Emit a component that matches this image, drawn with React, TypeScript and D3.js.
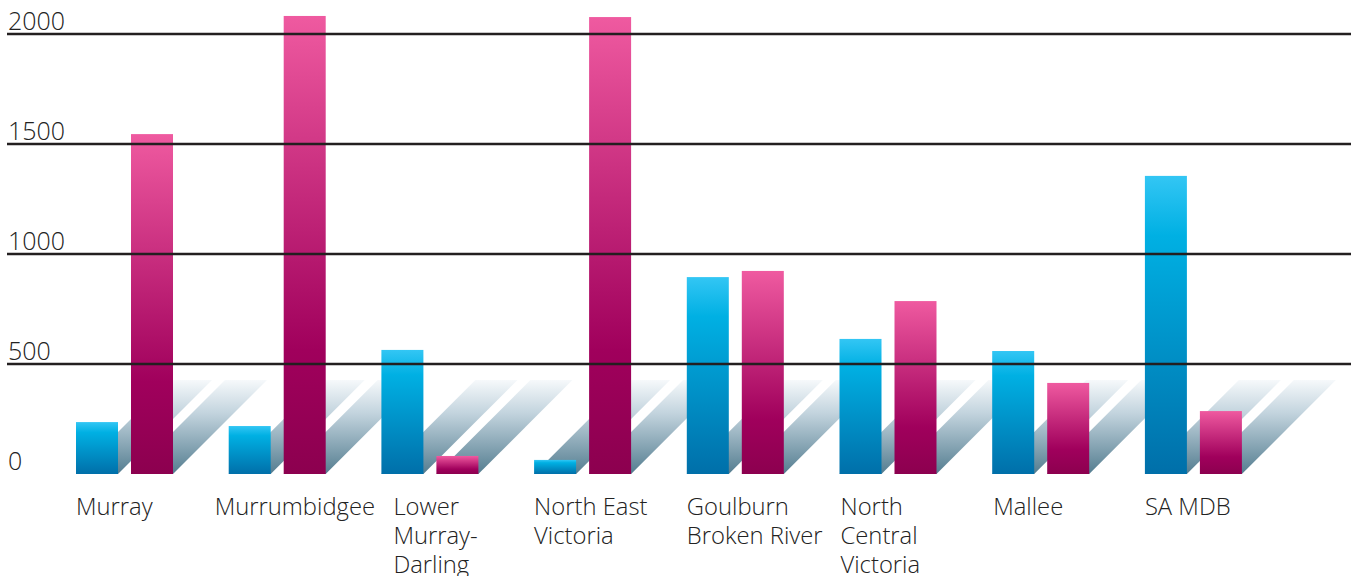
import React from "react";
import * as d3 from "d3";

const categories = [
  "Murray",
  "Murrumbidgee",
  "Lower Murray-Darling",
  "North East Victoria",
  "Goulburn Broken River",
  "North Central Victoria",
  "Mallee",
  "SA MDB",
];
const categoryLines = [
  ["Murray"],
  ["Murrumbidgee"],
  ["Lower", "Murray-", "Darling"],
  ["North East", "Victoria"],
  ["Goulburn", "Broken River"],
  ["North", "Central", "Victoria"],
  ["Mallee"],
  ["SA MDB"],
];
const seriesBlue = [236, 218, 564, 64, 895, 614, 559, 1355];
const seriesPink = [1545, 2082, 82, 2077, 923, 786, 414, 286];
const yTicks = [0, 500, 1000, 1500, 2000];
const labelDx = [0, -14, 12, 0, 0, 1, 1, 0];

const W = 1357;
const H = 576;

export default function App() {
  const x0 = d3
    .scaleBand<string>()
    .domain(categories)
    .range([76, 76 + 152.7 * categories.length])
    .paddingInner(0)
    .paddingOuter(0);
  const x1 = d3
    .scaleBand<string>()
    .domain(["blue", "pink"])
    .range([0, 97])
    .paddingInner(13 / 55)
    .paddingOuter(0);
  const y = d3.scaleLinear().domain([0, 2000]).range([474, 34]);
  const base = y(0);
  const sh = 94;
  const bw = x1.bandwidth();

  const bars: { key: string; series: string; x: number; v: number }[] = [];
  categories.forEach((c, i) => {
    bars.push({ key: c + "b", series: "blue", x: (x0(c) as number) + (x1("blue") as number), v: seriesBlue[i] });
    bars.push({ key: c + "p", series: "pink", x: (x0(c) as number) + (x1("pink") as number), v: seriesPink[i] });
  });

  const shadowPath = (bx: number) => {
    const p = d3.path();
    p.moveTo(bx, base);
    p.lineTo(bx + bw, base);
    p.lineTo(bx + bw + sh, base - sh);
    p.lineTo(bx + sh, base - sh);
    p.closePath();
    return p.toString();
  };

  const font = "'Open Sans', 'Noto Sans', sans-serif";

  return (
    <svg
      width={W}
      height={H}
      style={{ position: "absolute", left: 0, top: 0, background: "#fff" }}
    >
      <defs>
        <linearGradient id="gBlue" x1="0" y1="0" x2="0" y2="1">
          <stop offset="0" stopColor="#33c6f4" />
          <stop offset="0.2" stopColor="#00b0e3" />
          <stop offset="1" stopColor="#006fa9" />
        </linearGradient>
        <linearGradient id="gPink" x1="0" y1="0" x2="0" y2="1">
          <stop offset="0" stopColor="#ef5aa0" />
          <stop offset="0.73" stopColor="#a0005c" />
          <stop offset="1" stopColor="#8c004f" />
        </linearGradient>
        <linearGradient
          id="gShadow"
          gradientUnits="userSpaceOnUse"
          x1="0"
          y1={base - sh}
          x2="0"
          y2={base}
        >
          <stop offset="0" stopColor="#f6f9fb" />
          <stop offset="0.35" stopColor="#c3d4de" />
          <stop offset="1" stopColor="#547d90" />
        </linearGradient>
      </defs>

      {bars.map((b) => (
        <path key={"s" + b.key} d={shadowPath(b.x)} fill="url(#gShadow)" />
      ))}

      {bars.map((b) => (
        <rect
          key={b.key}
          x={b.x}
          y={y(b.v)}
          width={bw}
          height={base - y(b.v)}
          fill={b.series === "blue" ? "url(#gBlue)" : "url(#gPink)"}
        />
      ))}

      {yTicks
        .filter((t) => t > 0)
        .map((t) => (
          <line
            key={"g" + t}
            x1={7}
            x2={1351}
            y1={y(t)}
            y2={y(t)}
            stroke="#231f20"
            strokeWidth={2.4}
          />
        ))}

      {yTicks.map((t) => (
        <text
          key={"t" + t}
          x={8}
          y={y(t) - 4.5}
          fontFamily={font}
          fontWeight={300}
          fontSize={25}
          fill="#222"
        >
          {t}
        </text>
      ))}

      {categories.map((c, i) => (
        <text
          key={"c" + c}
          x={(x0(c) as number) + labelDx[i]}
          y={515}
          fontFamily={font}
          fontWeight={300}
          fontSize={23.8}
          fill="#222"
        >
          {categoryLines[i].map((ln, j) => (
            <tspan key={j} x={(x0(c) as number) + labelDx[i]} dy={j === 0 ? 0 : 29}>
              {ln}
            </tspan>
          ))}
        </text>
      ))}
    </svg>
  );
}
